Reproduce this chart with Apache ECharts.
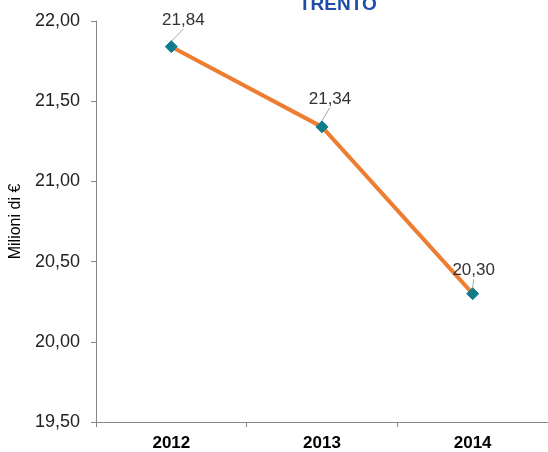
<!DOCTYPE html>
<html><head><meta charset="utf-8">
<script src="https://cdn.jsdelivr.net/npm/echarts@6/dist/echarts.min.js"></script>
<style>html,body{margin:0;padding:0;background:#fff}#c{width:548px;height:452px}</style>
</head><body><div id="c"></div>
<script>
const categories = ['2012', '2013', '2014'];
const values = [21.84, 21.34, 20.30];
const yMin = 19.5, yMax = 22, yStep = 0.5;
const titleText = 'TRENTO';
const yName = 'Milioni di €';

const fmt = v => v.toFixed(2).replace('.', ',');
const offsets = [[12, -6], [8, -8], [1, -3]];

const chart = echarts.init(document.getElementById('c'), null, {renderer: 'canvas'});
chart.setOption({
  animation: false,
  title: {
    text: titleText, left: 294, top: -10,
    textStyle: {fontFamily: 'Liberation Sans, Arial', fontSize: 19, fontWeight: 'bold', color: '#1F4EA8'}
  },
  grid: {left: 96, right: 0, top: 21, bottom: 30},
  xAxis: {
    type: 'category', data: categories, boundaryGap: true,
    axisLine: {lineStyle: {color: '#868686', width: 1}},
    axisTick: {show: true, length: 5, lineStyle: {color: '#868686'}},
    axisLabel: {fontFamily: 'Liberation Sans, Arial', fontSize: 17, fontWeight: 'bold', color: '#000', margin: 13},
    splitLine: {show: false}
  },
  yAxis: {
    type: 'value', min: yMin, max: yMax, interval: yStep,
    name: yName, nameLocation: 'middle', nameGap: 67, nameRotate: 90,
    nameTextStyle: {fontFamily: 'Liberation Sans, Arial', fontSize: 16, color: '#000'},
    axisLine: {show: true, lineStyle: {color: '#868686', width: 1}},
    axisTick: {show: true, length: 5, lineStyle: {color: '#868686'}},
    axisLabel: {fontFamily: 'Liberation Sans, Arial', fontSize: 18, color: '#222', margin: 16, formatter: fmt},
    splitLine: {show: false}
  },
  series: [{
    type: 'line', data: values,
    symbol: 'diamond', symbolSize: 12,
    itemStyle: {color: '#0F7C8C', borderColor: '#0F7C8C', borderWidth: 1, borderJoin: 'round'},
    lineStyle: {color: '#ED7D31', width: 4},
    label: {show: true, position: 'top', distance: 5, formatter: p => fmt(p.value),
      fontFamily: 'Liberation Sans, Arial', fontSize: 17, color: '#333'},
    labelLine: {show: true, lineStyle: {color: '#A6A6A6', width: 1}},
    labelLayout: p => ({dx: offsets[p.dataIndex][0], dy: offsets[p.dataIndex][1]})
  }]
});
</script></body></html>
